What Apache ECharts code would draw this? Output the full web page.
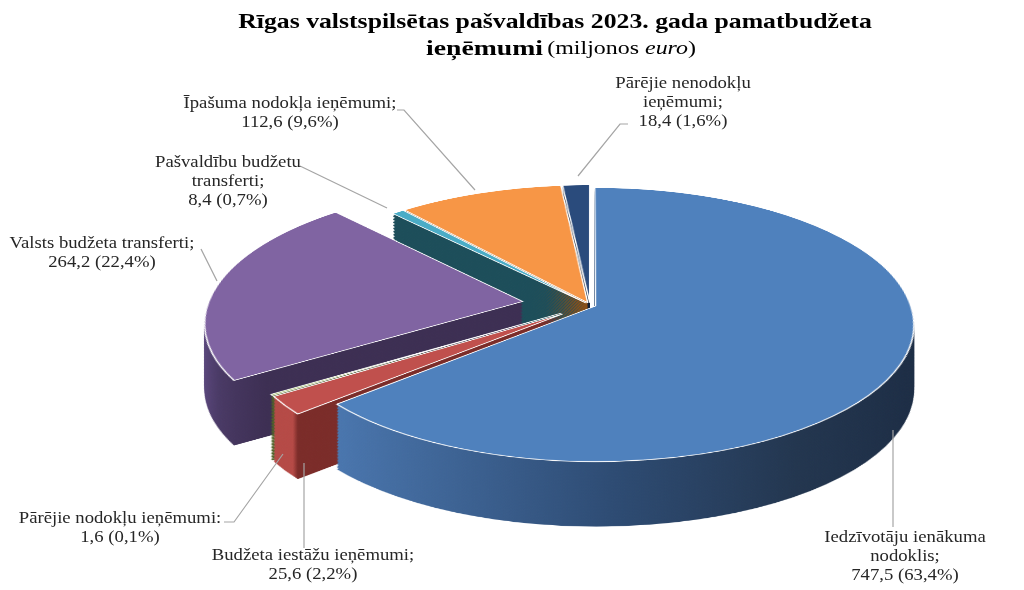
<!DOCTYPE html>
<html>
<head>
<meta charset="utf-8">
<script src="https://cdn.jsdelivr.net/npm/echarts@6/dist/echarts.min.js"></script>
<style>
html, body { margin: 0; padding: 0; background: #fff; }
#wrap { position: relative; width: 1024px; height: 590px; overflow: hidden; }
.pie { position: absolute; left: 0; top: -95px; width: 1024px; height: 800px; transform-origin: 590px 400px; }
#main { position: absolute; left: 0; top: 0; width: 1024px; height: 590px; }
</style>
</head>
<body>
<div id="wrap"><div id="main"></div></div>
<script>
// dati (miljonos euro)
var categories = ['Iedzīvotāju ienākuma\nnodoklis', 'Budžeta iestāžu ieņēmumi', 'Pārējie nodokļu ieņēmumi',
    'Valsts budžeta transferti', 'Pašvaldību budžetu\ntransferti', 'Īpašuma nodokļa ieņēmumi', 'Pārējie nenodokļu\nieņēmumi'];
var values = [747.5, 25.6, 1.6, 264.2, 8.4, 112.6, 18.4];
var separators = [';', ';', ':', ';', ';', ';', ';'];

var topColors = ['#4f81bd', '#c0504d', '#9bbb59', '#8064a2', '#4bacc6', '#f79646', '#2a4b7c'];
function grad(stops) {
    return new echarts.graphic.LinearGradient(0, 0, 1, 0, stops.map(function (s) { return { offset: s[0], color: s[1] }; }));
}
// side walls, shaded left to right
var sideColors = [
    grad([[0, '#4a76ae'], [0.45, '#2e4c74'], [0.75, '#23364f'], [1, '#1c2c44']]),
    grad([[0, '#b54a46'], [0.08, '#b54a46'], [0.1, '#7b2c29'], [1, '#7b2c29']]),
    '#4f6228',
    grad([[0, '#5e4a82'], [0.1, '#4a3a66'], [0.25, '#3d2f53'], [1, '#3d2f53']]),
    '#1d4e5a',
    '#8a4f18',
    '#101e33'
];

// how far each slice is pulled out (groups share one offset)
var explode = [
    { offset: 68, items: [3] },
    { offset: 35, items: [1, 2] },
    { offset: 6, items: [0, 4, 5, 6] }
];

// the flat pie is tilted with css perspective, side walls are stacked copies
var R = 315, tilt = 64.8, persp = 2100;
var depth = 65, layers = 44;

var total = values.reduce(function (a, b) { return a + b; }, 0);
function fmt(v) { return v.toFixed(1).replace('.', ','); }

function pieSeries(colors, border, group) {
    return {
        type: 'pie',
        center: [590, 400],
        radius: R,
        startAngle: 90,
        clockwise: true,
        selectedMode: 'multiple',
        selectedOffset: group.offset,
        silent: true,
        avoidLabelOverlap: false,
        label: { show: false },
        labelLine: { show: false },
        emphasis: { disabled: true },
        data: values.map(function (v, i) {
            var on = group.items.indexOf(i) >= 0;
            var c = on ? colors[i] : 'transparent';
            return {
                name: categories[i].replace('\n', ' '),
                value: v,
                selected: on,
                itemStyle: {
                    color: c,
                    borderColor: border && on ? '#ffffff' : 'transparent',
                    borderWidth: border && on ? 1.5 : 0
                },
                select: { itemStyle: { color: c } }
            };
        })
    };
}

var wrap = document.getElementById('wrap');
var mainDiv = document.getElementById('main');
function addLayer(shift, colors, border) {
    var d = document.createElement('div');
    d.className = 'pie';
    d.style.transform = 'translateY(' + shift + 'px) perspective(' + persp + 'px) rotateX(' + tilt + 'deg)';
    wrap.insertBefore(d, mainDiv);
    var c = echarts.init(d, null, { renderer: 'svg' });
    c.setOption({
        animation: false,
        series: explode.map(function (g) { return pieSeries(colors, border, g); })
    });
}
for (var k = layers; k >= 1; k--) addLayer(k * depth / layers, sideColors, false);
addLayer(0, topColors, true);

// label placement (screen px)
var labelPos = [
    { x: 905, y: 528, line: [[893, 527], [893, 430]] },
    { x: 313, y: 546, line: [[304, 548], [304, 463]] },
    { x: 120, y: 509, line: [[224, 522], [234, 522], [283, 454]] },
    { x: 102, y: 234, line: [[201, 249], [217, 281]] },
    { x: 228, y: 153, line: [[300, 166], [387, 208]] },
    { x: 290, y: 94, line: [[397, 110], [404, 110], [475, 190]] },
    { x: 683, y: 74, line: [[628, 124], [620, 124], [578, 176]] }
];

var graphics = [
    {
        type: 'text', x: 555, y: 22, scaleX: 1.17,
        style: {
            text: 'Rīgas valstspilsētas pašvaldības 2023. gada pamatbudžeta',
            font: 'bold 22px "Liberation Serif"', fill: '#000', textAlign: 'center', textVerticalAlign: 'middle'
        }
    },
    {
        type: 'text', x: 561, y: 49, scaleX: 1.26,
        style: {
            text: '{b|ieņēmumi} {n|(miljonos }{i|euro}{n|)}',
            textAlign: 'center', textVerticalAlign: 'middle',
            rich: {
                b: { font: 'bold 22px "Liberation Serif"', fill: '#000' },
                n: { font: '19px "Liberation Serif"', fill: '#000' },
                i: { font: 'italic 19px "Liberation Serif"', fill: '#000' }
            }
        }
    }
];

values.forEach(function (v, i) {
    var p = labelPos[i];
    var pct = fmt(v / total * 100);
    graphics.push({
        type: 'polyline',
        shape: { points: p.line },
        style: { stroke: '#a5a5a5', lineWidth: 1.2, fill: null }
    });
    graphics.push({
        type: 'text', x: p.x, y: p.y, scaleX: 1.1,
        style: {
            text: categories[i] + separators[i] + '\n' + fmt(v) + ' (' + pct + '%)',
            font: '17px "Liberation Serif"', lineHeight: 19,
            fill: '#262626', textAlign: 'center', textVerticalAlign: 'top'
        }
    });
});

var chart = echarts.init(mainDiv);
chart.setOption({ animation: false, graphic: graphics });
</script>
</body>
</html>
